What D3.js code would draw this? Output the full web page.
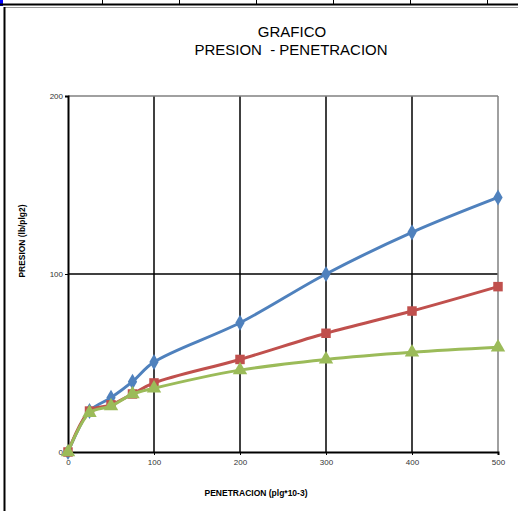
<!DOCTYPE html>
<html><head><meta charset="utf-8">
<script src="https://cdn.jsdelivr.net/npm/d3@7"></script>
<style>body{margin:0;background:#fff}svg{display:block}</style>
</head><body>
<svg id="c" width="518" height="511"></svg>
<script>
const penetracion = [0, 25, 50, 75, 100, 200, 300, 400, 500];
const serie1 = [0, 23, 30.5, 39.5, 50.5, 72.6, 100, 123.4, 143];
const serie2 = [0, 23, 26.5, 32.6, 38.8, 52, 66.7, 79.2, 92.9];
const serie3 = [0, 22, 25.8, 32.5, 35.8, 46, 52, 56, 58.8];
const xTicks = [0, 100, 200, 300, 400, 500];
const yTicks = [0, 100, 200];
const titleLines = ["GRAFICO", "PRESION  - PENETRACION"];
const xTitle = "PENETRACION (plg*10-3)";
const yTitle = "PRESION (lb/plg2)";

const svg = d3.select("#c");
const x = d3.scaleLinear().domain([0, 500]).range([68, 498]);
const y = d3.scaleLinear().domain([0, 200]).range([452, 96]);

// spreadsheet frame
svg.append("rect").attr("x",0).attr("y",0).attr("width",3).attr("height",6).attr("fill","#0000ff");
svg.append("line").attr("x1",0).attr("x2",518).attr("y1",4.5).attr("y2",4.5).attr("stroke","#000").attr("stroke-width",2);
[102,179,256,333,410,487].forEach(px=>{
  svg.append("line").attr("x1",px+0.5).attr("x2",px+0.5).attr("y1",0).attr("y2",5).attr("stroke","#000").attr("stroke-width",1);
});
svg.append("line").attr("x1",4).attr("x2",518).attr("y1",7.5).attr("y2",7.5).attr("stroke","#9a9a9a").attr("stroke-width",1);
svg.append("line").attr("x1",4.5).attr("x2",4.5).attr("y1",7).attr("y2",511).attr("stroke","#000").attr("stroke-width",2);

// title
const ft = "'Liberation Sans', Arial, sans-serif";
svg.append("text").attr("x",292).attr("y",37).attr("text-anchor","middle")
  .attr("font-family",ft).attr("font-size",15).attr("fill","#000").text(titleLines[0]);
svg.append("text").attr("x",291).attr("y",55).attr("text-anchor","middle")
  .attr("font-family",ft).attr("font-size",15).attr("fill","#000")
  .attr("textLength",193).attr("lengthAdjust","spacingAndGlyphs").attr("xml:space","preserve").text(titleLines[1]);

// grid
const g = svg.append("g");
xTicks.slice(1,-1).forEach(v=>{
  g.append("line").attr("x1",x(v)).attr("x2",x(v)).attr("y1",y(200)).attr("y2",y(0)).attr("stroke","#000").attr("stroke-width",1.5);
});
yTicks.slice(1,-1).forEach(v=>{
  g.append("line").attr("x1",x(0)).attr("x2",x(500)).attr("y1",y(v)).attr("y2",y(v)).attr("stroke","#000").attr("stroke-width",1.5);
});
g.append("line").attr("x1",x(0)).attr("x2",x(500)).attr("y1",y(200)).attr("y2",y(200)).attr("stroke","#808080").attr("stroke-width",1.5);
g.append("line").attr("x1",x(500)).attr("x2",x(500)).attr("y1",y(200)).attr("y2",y(0)).attr("stroke","#808080").attr("stroke-width",1.5);

// axes
const xAxis = d3.axisBottom(x).tickValues(xTicks).tickSize(3).tickPadding(4);
const yAxis = d3.axisLeft(y).tickValues(yTicks).tickSize(3).tickPadding(2);
const gx = svg.append("g").attr("transform",`translate(0,${y(0)})`).call(xAxis);
const gy = svg.append("g").attr("transform",`translate(${x(0)},0)`).call(yAxis);
[gx,gy].forEach(a=>{
  a.select(".domain").attr("stroke","#000").attr("stroke-width",2);
  a.selectAll(".tick line").attr("stroke","#000").attr("stroke-width",1);
  a.selectAll("text").attr("font-family",ft).attr("font-size",8).attr("fill","#333");
});
gy.selectAll("text").attr("dy","0.35em");

// axis titles
svg.append("text").attr("x",256).attr("y",496).attr("text-anchor","middle")
  .attr("font-family",ft).attr("font-size",8.5).attr("font-weight","bold").text(xTitle);
svg.append("text").attr("transform","translate(25,241) rotate(-90)").attr("text-anchor","middle")
  .attr("font-family",ft).attr("font-size",9).attr("font-weight","bold")
  .attr("textLength",73).attr("lengthAdjust","spacingAndGlyphs").text(yTitle);

// series
const series = [
  {vals: serie1, color:"#4F81BD", sym: d3.symbolDiamond, size: 75},
  {vals: serie2, color:"#C0504D", sym: d3.symbolSquare, size: 90},
  {vals: serie3, color:"#9BBB59", sym: d3.symbolTriangle, size: 90}
];
const line = d3.line().x(d=>x(d[0])).y(d=>y(d[1])).curve(d3.curveCatmullRom.alpha(0.5));
series.forEach(s=>{
  const pts = penetracion.map((p,i)=>[p, s.vals[i]]);
  svg.append("path").datum(pts).attr("d",line).attr("fill","none")
    .attr("stroke",s.color).attr("stroke-width",3).attr("stroke-linejoin","round").attr("stroke-linecap","round");
  svg.append("g").selectAll("path").data(pts).join("path")
    .attr("transform",d=>`translate(${x(d[0])},${y(d[1])})`)
    .attr("d",d3.symbol().type(s.sym).size(s.size)).attr("fill",s.color);
});
</script>
</body></html>
